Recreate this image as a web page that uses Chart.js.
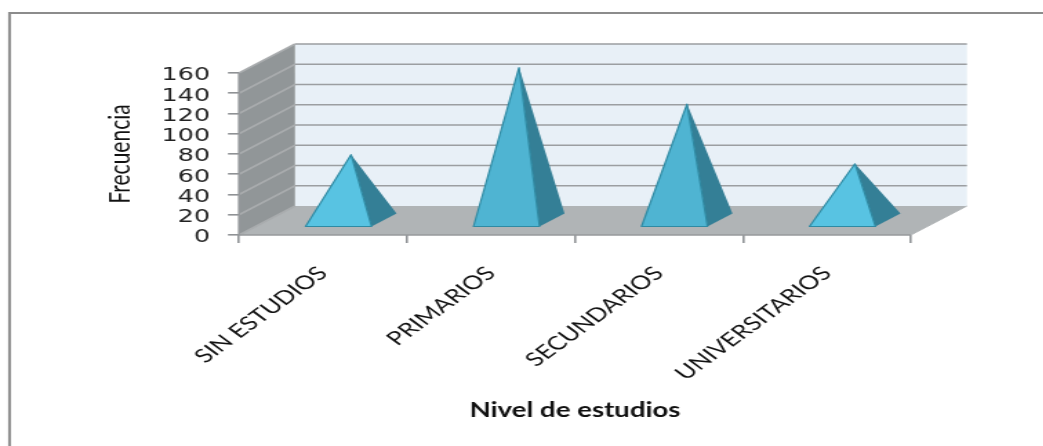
<!DOCTYPE html>
<html>
<head>
<meta charset="utf-8">
<style>
  html, body { margin: 0; background: #fff; overflow: hidden; }
  /* the original picture is stretched sideways, text included */
  canvas { display: block; transform: scaleX(1.38); transform-origin: 0 0; }
</style>
<script src="https://cdn.jsdelivr.net/npm/chart.js@4"></script>
</head>
<body>
<canvas id="pyramidChart" width="756" height="446"></canvas>
<script>
 const categories = ["SIN ESTUDIOS", "PRIMARIOS", "SECUNDARIOS", "UNIVERSITARIOS"];
 const frequencies = [65, 151, 115, 56];
 const yTicks = [0, 20, 40, 60, 80, 100, 120, 140, 160];

 // sideways stretch, all x sizes below are canvas units
 const stretch = 1.38;

 // depth of the fake 3d box
 const depthX = 56 / stretch;
 const depthY = -29;

 // back wall, side wall, floor and gridlines
 const box3d = {
     id: "box3d",
     afterLayout(chart) {
         // digits sit a bit low next to their tick marks in the original
         chart.scales.y.getLabelItems(chart.chartArea).forEach(item => {
             item.options.translation[1] += 2.5;
         });
     },
     beforeDatasetsDraw(chart) {
         const { ctx, scales: { x, y } } = chart;
         const left = x.left, right = x.right, base = y.getPixelForValue(0), top = y.getPixelForValue(160);
         ctx.save();
         // frame of the picture, only top and left show
         ctx.strokeStyle = "#8c8c8c";
         ctx.lineWidth = 2;
         ctx.beginPath();
         ctx.moveTo(6.9, 446);
         ctx.lineTo(6.9, 13);
         ctx.lineTo(756, 13);
         ctx.stroke();
         // back wall
         ctx.fillStyle = "#e8f0f7";
         ctx.fillRect(left + depthX, top + depthY, right - left, base - top);
         // side wall
         ctx.fillStyle = "#919698";
         ctx.beginPath();
         ctx.moveTo(left, base);
         ctx.lineTo(left, top);
         ctx.lineTo(left + depthX, top + depthY);
         ctx.lineTo(left + depthX, base + depthY);
         ctx.closePath();
         ctx.fill();
         // floor
         ctx.fillStyle = "#b0b4b6";
         ctx.beginPath();
         ctx.moveTo(left, base);
         ctx.lineTo(right, base);
         ctx.lineTo(right + depthX, base + depthY);
         ctx.lineTo(left + depthX, base + depthY);
         ctx.closePath();
         ctx.fill();
         // gridlines on both walls
         ctx.lineWidth = 1.6;
         yTicks.forEach(t => {
             const py = y.getPixelForValue(t);
             if (t > 0) {
                 ctx.strokeStyle = "#9b9ea1";
                 ctx.beginPath();
                 ctx.moveTo(left + depthX, py + depthY);
                 ctx.lineTo(right + depthX, py + depthY);
                 ctx.stroke();
             }
             ctx.strokeStyle = "#a9acae";
             ctx.beginPath();
             ctx.moveTo(left, py);
             ctx.lineTo(left + depthX, py + depthY);
             ctx.stroke();
         });
         ctx.strokeStyle = "#96999c";
         ctx.beginPath();
         ctx.moveTo(left, top);
         ctx.lineTo(left, base);
         ctx.lineTo(right, base);
         ctx.stroke();
         ctx.strokeStyle = "#b0b4b6";
         ctx.lineWidth = 1;
         ctx.beginPath();
         ctx.moveTo(right, base);
         ctx.lineTo(right + depthX, base + depthY);
         ctx.stroke();
         ctx.restore();
     }
 };

 // draws a pyramid on top of every (invisible) bar
 const pyramids = {
     id: "pyramids",
     afterDatasetsDraw(chart) {
         const { ctx, scales: { y } } = chart;
         const baseY = y.getPixelForValue(0) + depthY / 2;
         chart.getDatasetMeta(0).data.forEach((bar, i) => {
             const halfW = bar.width / 2;
             const skew = 12.5 / stretch;
             // pyramids stand half way into the box
             const cx = bar.x + depthX / 2;
             const apexY = bar.y + depthY / 2;
             const frontY = baseY + 6, backY = baseY - 7;
             const frontL = cx - halfW - skew, frontR = cx + halfW - skew, backR = cx + halfW + skew;

             ctx.save();
             ctx.lineJoin = "round";
             ctx.fillStyle = "#347f96";
             ctx.beginPath();
             ctx.moveTo(cx, apexY);
             ctx.lineTo(frontR, frontY);
             ctx.lineTo(backR, backY);
             ctx.closePath();
             ctx.fill();
             ctx.fillStyle = frequencies[i] > 100 ? "#4fb4d2" : "#58c3e2";
             ctx.strokeStyle = "#2f8aa3";
             ctx.lineWidth = 1.2;
             ctx.beginPath();
             ctx.moveTo(cx, apexY);
             ctx.lineTo(frontL, frontY);
             ctx.lineTo(frontR, frontY);
             ctx.closePath();
             ctx.fill();
             ctx.stroke();
             ctx.restore();
         });
     }
 };

 new Chart(document.getElementById("pyramidChart"), {
     type: "bar",
     data: {
         labels: categories,
         datasets: [{
             label: "Frecuencia",
             data: frequencies,
             backgroundColor: "rgba(0,0,0,0)",
             borderWidth: 0,
             barThickness: 66 / stretch
         }]
     },
     plugins: [box3d, pyramids],
     options: {
         responsive: false,
         animation: false,
         devicePixelRatio: 1,
         layout: { padding: { left: 71, top: 73, right: 95.9, bottom: 19 } },
         plugins: { legend: { display: false }, tooltip: { enabled: false } },
         scales: {
             x: {
                 afterFit: s => { s.height = 192; },
                 grid: { drawOnChartArea: false, color: "#8f9295", lineWidth: 1.6, tickLength: 8 },
                 border: { display: false },
                 ticks: {
                     minRotation: 45, maxRotation: 45, padding: 19, color: "#111",
                     font: { family: "Lato", size: 19 }
                 },
                 title: {
                     display: true, text: "Nivel de estudios", color: "#111",
                     font: { family: "Lato", size: 20, weight: "bold" }
                 }
             },
             y: {
                 min: 0, max: 160,
                 afterFit: s => { s.width = 102.2; },
                 afterBuildTicks: s => { s.ticks = yTicks.map(v => ({ value: v })); },
                 grid: { drawOnChartArea: false, color: "#8f9295", lineWidth: 1.6, tickLength: 8 },
                 border: { display: false },
                 ticks: {
                     autoSkip: false, padding: 13, color: "#222",
                     font: { family: "DejaVu Sans", size: 18.5 }
                 },
                 title: {
                     display: true, text: "Frecuencia", color: "#111",
                     font: { family: "Lato", size: 21 }
                 }
             }
         }
     }
 });
</script>
</body>
</html>
